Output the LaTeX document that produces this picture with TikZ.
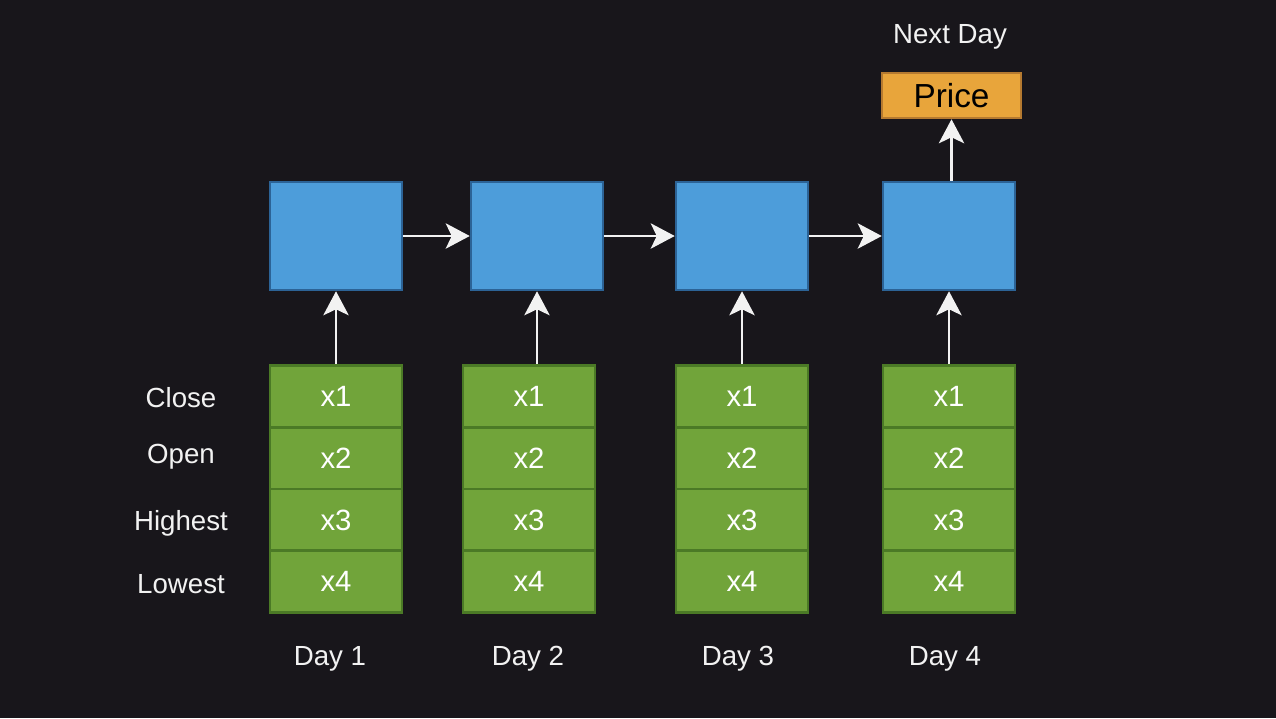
\documentclass[tikz,border=0pt]{standalone}
\usepackage{fontspec}
\setmainfont{Liberation Sans}
\usetikzlibrary{arrows.meta}
\definecolor{bg}{RGB}{24,22,27}
\definecolor{bluefill}{RGB}{77,157,218}
\definecolor{blueline}{RGB}{44,99,150}
\definecolor{greenfill}{RGB}{113,164,58}
\definecolor{greenline}{RGB}{75,122,38}
\definecolor{orangefill}{RGB}{232,165,59}
\definecolor{orangeline}{RGB}{181,122,48}
\definecolor{wtext}{RGB}{242,242,242}
\tikzset{
  cell/.style={draw=blueline, fill=bluefill, line width=1.9pt, minimum width=99pt, minimum height=81pt, inner sep=0pt},
  feat/.style={draw=greenline, fill=greenfill, line width=1.9pt, minimum width=99pt, minimum height=46.5pt, inner sep=0pt, text=white, font=\fontsize{22pt}{26pt}\selectfont, text height=15.6pt, text depth=0pt},
  pricebox/.style={draw=orangeline, fill=orangefill, line width=1.9pt, minimum width=104.25pt, minimum height=33.75pt, inner sep=0pt, text=black, font=\fontsize{25pt}{29pt}\selectfont, text height=17.9pt, text depth=0pt},
  lbl/.style={text=wtext, font=\fontsize{20.75pt}{24pt}\selectfont, inner sep=0pt, anchor=base},
  arr/.style={draw=wtext, line width=1.9pt, -{Stealth[length=18pt, width=19pt, inset=4.5pt]}}
}
\begin{document}
\begin{tikzpicture}[x=0.75pt, y=-0.75pt]
\fill[bg] (0,0) rectangle (1276,718);
\useasboundingbox (0,0) rectangle (1276,718);
% blue cells
\node[cell] (b1) at (336,236) {};
\node[cell] (b2) at (537,236) {};
\node[cell] (b3) at (742,236) {};
\node[cell] (b4) at (949,236) {};
% price
\node[pricebox] (p) at (951.5,95.5) {Price};
\node[lbl] (nd) at (950,43) {Next Day};
% green features
\foreach \c/\x in {1/336, 2/529, 3/742, 4/949}{
  \node[feat] (g\c1) at (\x,396.5) {x1};
  \node[feat] (g\c2) at (\x,458.5) {x2};
  \node[feat] (g\c3) at (\x,520) {x3};
  \node[feat] (g\c4) at (\x,581.5) {x4};
}
% row labels
\node[lbl] (lc) at (181,407) {Close};
\node[lbl] (lo) at (181,463) {Open};
\node[lbl] (lh) at (181,530) {Highest};
\node[lbl] (ll) at (181,593) {Lowest};
% day labels
\node[lbl] (d1) at (330,665) {Day 1};
\node[lbl] (d2) at (528,665) {Day 2};
\node[lbl] (d3) at (738,665) {Day 3};
\node[lbl] (d4) at (945,665) {Day 4};
% arrows
\draw[arr] (g11.north -| b1.south) -- (b1.south);
\draw[arr] (g21.north -| b2.south) -- (b2.south);
\draw[arr] (g31.north -| b3.south) -- (b3.south);
\draw[arr] (g41.north -| b4.south) -- (b4.south);
\draw[arr] (b1.east) -- (b2.west);
\draw[arr] (b2.east) -- (b3.west);
\draw[arr] (b3.east) -- (b4.west);
\draw[arr] (b4.north -| p.south) -- (p.south);
\end{tikzpicture}
\end{document}
